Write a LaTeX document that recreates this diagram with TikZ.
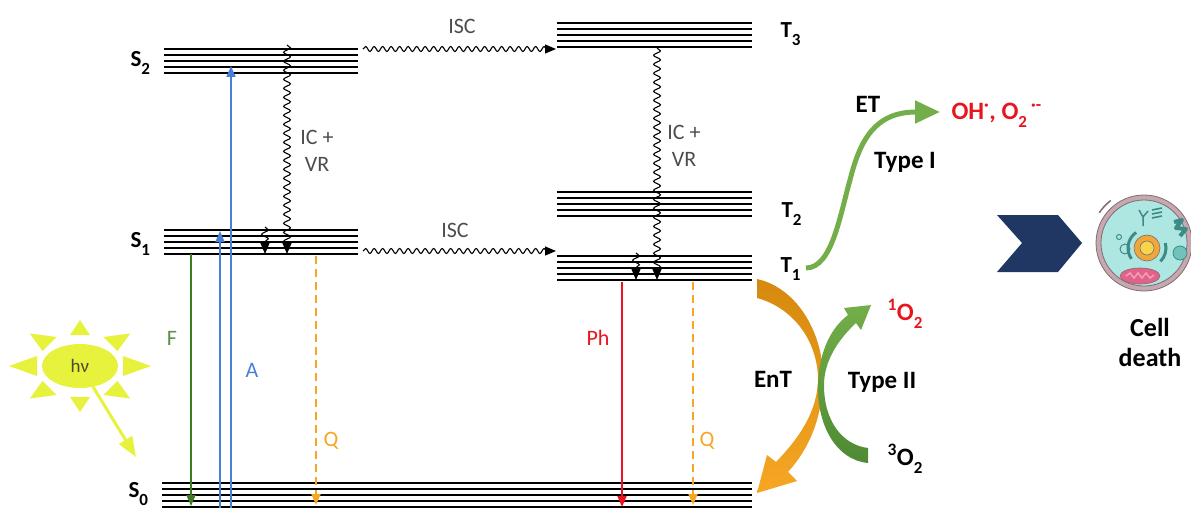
\documentclass[tikz,border=0pt]{standalone}
\usepackage{fontspec}
\setmainfont{Carlito}
\usetikzlibrary{arrows.meta,decorations.pathmorphing,shapes.geometric}
\definecolor{PDGreen}{HTML}{3E7B25}
\definecolor{PDBlue}{HTML}{4A7FD6}
\definecolor{PDOrange}{HTML}{F6A623}
\definecolor{PDAmber}{HTML}{D5890E}
\definecolor{PDRed}{HTML}{E8151F}
\definecolor{PDLeaf}{HTML}{74AE4A}
\definecolor{PDLeafDark}{HTML}{4E8A33}
\definecolor{PDSun}{HTML}{E6F23C}
\definecolor{PDSunText}{HTML}{4B4A2E}
\definecolor{PDGrey}{HTML}{4D4D4D}
\definecolor{PDNavy}{HTML}{1F3762}
\definecolor{PDRing}{HTML}{C8A8AF}
\definecolor{PDRingLine}{HTML}{7F6C74}
\definecolor{PDCyto}{HTML}{AEE6E2}
\definecolor{PDTeal}{HTML}{3D8B87}
\definecolor{PDTealLight}{HTML}{70C3BB}
\definecolor{PDNucleus}{HTML}{EFA63A}
\definecolor{PDNucleolus}{HTML}{F6D44C}
\definecolor{PDMito}{HTML}{E2628A}
\definecolor{PDMitoLight}{HTML}{F3A0B8}
\newcommand{\lowsub}[1]{\raisebox{-8pt}{\fontsize{17}{17}\selectfont #1}}

\begin{document}
\begin{tikzpicture}[x=1pt,y=-1pt,
  vib/.style={line width=1.1pt},
  vibbase/.style={line width=2.2pt},
  statelbl/.style={font=\fontsize{23}{27}\selectfont\bfseries,anchor=base west},
  note/.style={font=\fontsize{22}{27}\selectfont,text=PDGrey,align=center},
  tag/.style={font=\fontsize{22}{26}\selectfont},
  heavy/.style={font=\fontsize{25}{30}\selectfont\bfseries},
  wave/.style={decorate,decoration={snake,amplitude=3.4pt,segment length=9pt,post length=9pt},line width=1.1pt,-{Triangle[length=11pt,width=9pt]}},
  decay/.style={line width=1.6pt,-{Triangle[length=11pt,width=9pt]}},
  quench/.style={PDOrange,line width=2pt,dash pattern=on 8pt off 5pt,-{Triangle[length=11pt,width=9pt]}}]
\path[use as bounding box] (0,0) rectangle (1191,508);

\foreach \xa/\xb/\yt in {164/358/49,164/358/230,557/752/23,557/752/192,557/752/256,162/752/483}{
  \foreach \k in {0,...,3}
    \draw[vib] (\xa,{\yt+6*\k}) -- (\xb,{\yt+6*\k});
  \draw[vibbase] (\xa,{\yt+24}) -- (\xb,{\yt+24});
}
\node[statelbl] (S2) at (127,67) {S\lowsub{2}};
\node[statelbl] (S1) at (127,247) {S\lowsub{1}};
\node[statelbl] (S0) at (125,497) {S\lowsub{0}};
\node[statelbl] (T3) at (777,38) {T\lowsub{3}};
\node[statelbl] (T2) at (778,217) {T\lowsub{2}};
\node[statelbl] (T1) at (777,272) {T\lowsub{1}};

\coordinate (iscS2) at (363,49);
\coordinate (iscT3) at (556,49);
\coordinate (iscS1) at (363,251);
\coordinate (iscT1) at (556,251);
\draw[wave,decoration={amplitude=2.5pt,segment length=8.5pt}] (iscS2) -- (iscT3);
\draw[wave,decoration={amplitude=2.5pt,segment length=8.5pt}] (iscS1) -- (iscT1);
\node[note] (iscA) at (462,26) {ISC};
\node[note] (iscB) at (455,230) {ISC};

\coordinate (icS2) at (287,45);
\coordinate (icS1) at (287,254);
\coordinate (vrS1a) at (265,227);
\coordinate (vrS1b) at (265,254);
\draw[wave] (icS2) -- (icS1);
\draw[wave] (vrS1a) -- (vrS1b);
\node[note] (icvrS) at (317,151) {IC +\\VR};

\coordinate (icT3) at (657,48);
\coordinate (icT1) at (657,280);
\coordinate (vrT1a) at (636,253);
\coordinate (vrT1b) at (636,280);
\draw[wave] (icT3) -- (icT1);
\draw[wave] (vrT1a) -- (vrT1b);
\node[note] (icvrT) at (684,146) {IC +\\VR};

\coordinate (f1) at (191,254);
\coordinate (f0) at (191,506);
\draw[decay,PDGreen] (f1) -- (f0);
\node[tag,text=PDGreen!85] (Flbl) at (172,338) {F};

\coordinate (a0) at (220,508);
\coordinate (a1) at (220,231);
\coordinate (b0) at (231,508);
\coordinate (b2) at (231,66);
\draw[decay,PDBlue] (a0) -- (a1);
\draw[decay,PDBlue] (b0) -- (b2);
\node[tag,text=PDBlue] (Albl) at (252,370) {A};

\coordinate (q1) at (316,256);
\coordinate (q0) at (316,505);
\draw[quench] (q1) -- (q0);
\node[tag,text=PDOrange] (Qlbl) at (331,441) {Q};

\coordinate (p1) at (622,282);
\coordinate (p0) at (622,507);
\draw[decay,PDRed] (p1) -- (p0);
\node[tag,text=PDRed] (Phlbl) at (598,338) {Ph};

\coordinate (r1) at (693,282);
\coordinate (r0) at (693,505);
\draw[quench] (r1) -- (r0);
\node[tag,text=PDOrange] (Qlblb) at (707,441) {Q};

\foreach \a in {0,45,...,315}
  \fill[PDSun] ({80+71*cos(\a)},{366-46*sin(\a)}) -- ({80+43*cos(\a)+10*sin(\a)},{366-31*sin(\a)+10*cos(\a)}) -- ({80+43*cos(\a)-10*sin(\a)},{366-31*sin(\a)-10*cos(\a)}) -- cycle;
\node[ellipse,fill=PDSun,minimum width=76pt,minimum height=44pt,inner sep=0pt,font=\fontsize{19}{22}\selectfont,text=PDSunText] (sun) at (80,366) {hν};
\coordinate (light) at (136,457);
\draw[PDSun,line width=3pt,-{Triangle[length=20pt,width=15pt]}] (sun.-58) -- (light);

\coordinate (et0) at (806,268);
\coordinate (et1) at (940,112);
\draw[PDLeaf,line width=5pt,-{Triangle[length=25pt,width=22pt]}] (et0) .. controls (832,268) and (840,215) .. (850,180) .. controls (860,140) and (875,112) .. (et1);
\node[heavy,anchor=base] (ET) at (868,113) {ET};
\node[heavy,anchor=base] (typeI) at (905,168) {Type I};
\node[heavy,anchor=base west,text=PDRed] (ros) at (948,120) {OH\textsuperscript{·}, O\lowsub{2}\,\textsuperscript{·-}};

\shade[top color=PDAmber,bottom color=PDOrange] (757,279) .. controls (798,288) and (824,335) .. (823,380) .. controls (822,420) and (808,450) .. (788,472) -- (797,481) -- (757,493) -- (767,455) -- (776,462) .. controls (802,435) and (817,410) .. (818,380) .. controls (818,342) and (794,308) .. (757,298) -- cycle;
\shade[top color=PDLeaf,bottom color=PDLeafDark] (868,463) .. controls (836,460) and (817,425) .. (818,385) .. controls (819,350) and (832,327) .. (848,315) -- (844,308) -- (871,305) -- (861,330) -- (856,323) .. controls (842,336) and (824,358) .. (824,385) .. controls (824,422) and (843,445) .. (868,448) -- cycle;
\node[heavy,anchor=base] (EnT) at (773,387) {EnT};
\node[heavy,anchor=base] (typeII) at (882,388) {Type II};
\node[heavy,anchor=base west,text=PDRed] (singlet) at (884,320) {\textsuperscript{1}O\lowsub{2}};
\node[heavy,anchor=base west] (triplet) at (884,465) {\textsuperscript{3}O\lowsub{2}};

\fill[PDNavy] (997,215) -- (1058,215) -- (1082,243) -- (1058,272) -- (997,272) -- (1022,243) -- cycle;

\filldraw[fill=PDRing,draw=PDRingLine,line width=0.8pt] (1144,243) circle[radius=48pt];
\filldraw[fill=PDCyto,draw=PDRingLine,line width=0.8pt] (1144,243) circle[radius=43pt];
\draw[PDRingLine,line width=1.5pt] (1144,243) ++(128:54pt) arc[start angle=128,end angle=146,radius=54pt];
\draw[PDTeal,line width=3pt] (1147,248) ++(125:19pt) arc[start angle=125,end angle=215,radius=19pt];
\draw[PDTeal,line width=3pt] (1147,248) ++(-45:19pt) arc[start angle=-45,end angle=15,radius=19pt];
\filldraw[fill=PDNucleus,draw=PDRingLine,line width=0.6pt] (1147,248) circle[radius=13pt];
\filldraw[fill=PDNucleolus,draw=PDRingLine,line width=0.6pt] (1147,248) circle[radius=7pt];
\filldraw[fill=PDMito,draw=PDRingLine,line width=0.6pt] (1140,276) ellipse[x radius=20pt,y radius=8pt];
\draw[PDMitoLight,line width=1.5pt] (1126,276) -- (1130,273) -- (1134,278) -- (1138,273) -- (1142,278) -- (1146,273) -- (1150,278) -- (1154,275);
\draw[PDTeal,line width=1pt] (1125,249) circle[radius=5pt];
\draw[PDTeal,line width=1pt] (1119,237) circle[radius=2.5pt];
\filldraw[fill=PDTealLight,draw=PDTeal,line width=0.8pt] (1180,253) circle[radius=7pt];
\draw[PDTeal,line width=1.5pt] (1143,226) -- (1143,217) -- (1139,210) (1143,217) -- (1148,211);
\foreach \r in {0,4,8}
  \draw[PDTeal,line width=1.6pt] (1152,{210+\r}) -- (1162,{208+\r});
\draw[PDTeal,line width=4pt,line join=round] (1174,222) -- (1182,220) -- (1176,228) -- (1186,229) -- (1180,236);

\node[heavy,align=center,font=\fontsize{26}{30}\selectfont\bfseries] (fate) at (1150,342) {Cell\\death};
\end{tikzpicture}
\end{document}
